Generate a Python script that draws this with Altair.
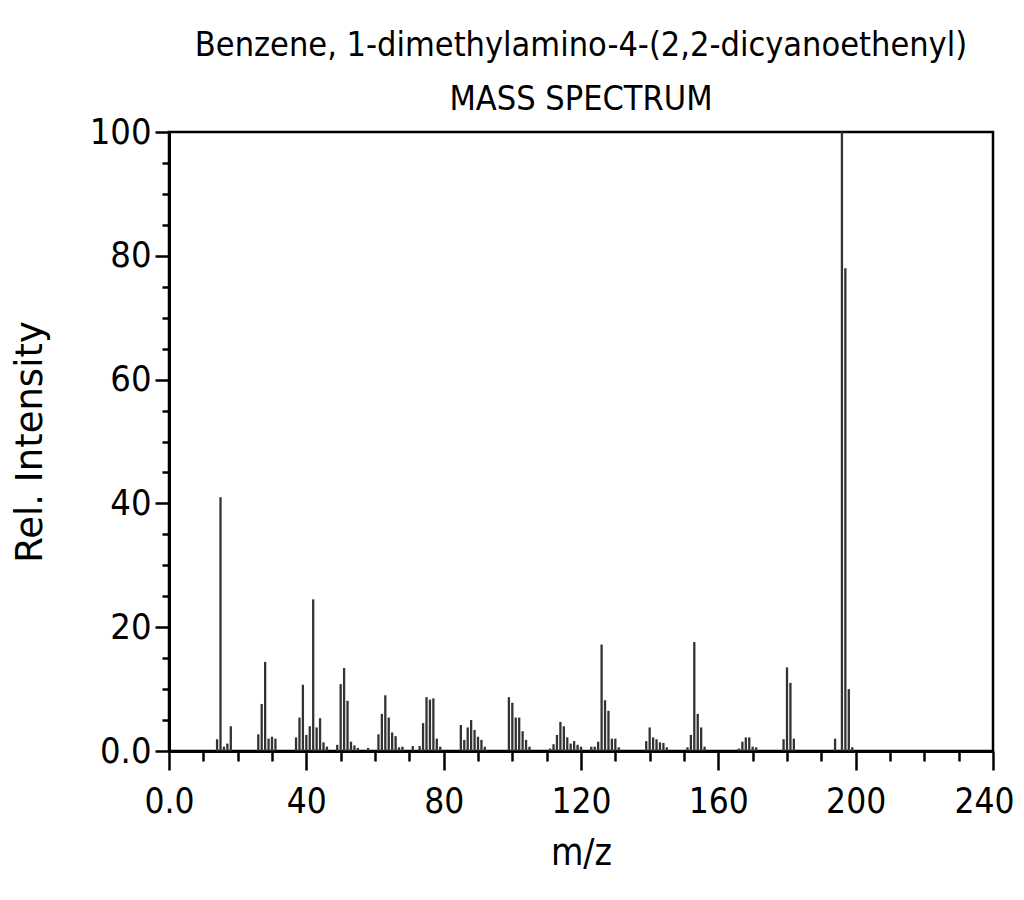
import altair as alt
import pandas as pd

mz = [14, 15, 16, 17, 18,
      26, 27, 28, 29, 30, 31,
      37, 38, 39, 40, 41, 42, 43, 44, 45, 46,
      49, 50, 51, 52, 53, 54, 55, 58,
      61, 62, 63, 64, 65, 66, 67, 68,
      71, 73, 74, 75, 76, 77, 78, 79,
      85, 86, 87, 88, 89, 90, 91, 92,
      99, 100, 101, 102, 103, 104, 105,
      111, 112, 113, 114, 115, 116, 117, 118, 119, 120,
      123, 124, 125, 126, 127, 128, 129, 130, 131,
      139, 140, 141, 142, 143, 144, 145,
      151, 152, 153, 154, 155, 156,
      166, 167, 168, 169, 170, 171,
      179, 180, 181, 182,
      194, 196, 197, 198, 199]
intensity = [1.9, 41.0, 0.7, 1.2, 4.0,
             2.7, 7.6, 14.4, 2.0, 2.3, 2.0,
             2.2, 5.4, 10.7, 2.6, 4.0, 24.5, 3.8, 5.3, 1.4, 0.7,
             1.0, 10.8, 13.4, 8.1, 1.5, 0.9, 0.5, 0.5,
             2.7, 6.0, 9.0, 5.4, 3.0, 2.4, 0.6, 0.7,
             0.8, 0.8, 4.5, 8.7, 8.3, 8.5, 2.0, 0.7,
             4.2, 1.8, 3.8, 5.0, 3.4, 2.3, 1.8, 0.7,
             8.7, 7.8, 5.4, 5.4, 3.2, 1.8, 0.7,
             0.4, 1.1, 2.6, 4.7, 4.0, 2.2, 1.2, 1.6, 1.0, 0.7,
             0.7, 0.7, 1.5, 17.2, 8.2, 6.5, 2.0, 2.0, 0.6,
             1.6, 3.8, 2.2, 1.9, 1.4, 1.3, 0.6,
             0.6, 2.6, 17.6, 6.0, 3.8, 0.7,
             0.4, 1.5, 2.2, 2.2, 0.7, 0.6,
             1.9, 13.5, 11.0, 2.0,
             2.0, 100.0, 78.0, 10.0, 0.6]

title_lines = ["Benzene, 1-dimethylamino-4-(2,2-dicyanoethenyl)", "MASS SPECTRUM"]
x_ticks = list(range(0, 241, 10))
y_ticks = list(range(0, 101, 5))

df = pd.DataFrame({"mz": mz, "intensity": intensity})

COND = "DejaVu Sans Condensed, DejaVu Sans"

x_axis = alt.Axis(
    values=x_ticks,
    tickSize={"condition": {"test": "datum.value % 40 === 0", "value": 19}, "value": 10},
    labelExpr="datum.value % 40 === 0 ? (datum.value === 0 ? '0.0' : datum.label) : ''",
    labelOffset={"condition": {"test": "datum.value === 240", "value": -9}, "value": 0},
    labelFont=COND, labelFontSize=35, labelColor="black", labelPadding=14,
    labelOverlap=False, labelFlush=False,
    tickColor="black", tickWidth=2.5, domainColor="black", domainWidth=3,
    grid=False, title="m/z", titleFont=COND, titleFontSize=37,
    titleFontWeight="normal", titleColor="black", titlePadding=16,
)
y_axis = alt.Axis(
    values=y_ticks,
    tickSize={"condition": {"test": "datum.value % 20 === 0", "value": 14}, "value": 7},
    labelExpr="datum.value % 20 === 0 ? (datum.value === 0 ? '0.0' : datum.label) : ''",
    labelFont=COND, labelFontSize=36, labelColor="black", labelPadding=4,
    labelOverlap=False, labelFlush=False,
    tickColor="black", tickWidth=2.5, domainColor="black", domainWidth=3,
    grid=False, title="Rel. Intensity", titleFont="DejaVu Sans", titleFontSize=37,
    titleFontWeight="normal", titleColor="black", titlePadding=40,
)

chart = alt.Chart(df).mark_rule(strokeWidth=2.3, color="#333333").encode(
    x=alt.X("mz:Q", scale=alt.Scale(domain=[0, 240], nice=False, zero=False), axis=x_axis),
    y=alt.Y("intensity:Q", scale=alt.Scale(domain=[0, 100], nice=False), axis=y_axis),
    y2=alt.datum(0),
).properties(
    width=824, height=619,
    title=alt.TitleParams(
        text=title_lines, font=COND, fontSize=34, fontWeight="normal",
        color="black", anchor="middle", lineHeight=54, offset=19, dy=49,
        baseline="alphabetic",
    ),
    autosize=alt.AutoSizeParams(type="none"),
    padding={"left": 161, "top": 124, "right": 23, "bottom": 130},
    background="white",
).configure_view(stroke="black", strokeWidth=2.5)

chart.save("out.html", embed_options={"renderer": "svg", "actions": False})
